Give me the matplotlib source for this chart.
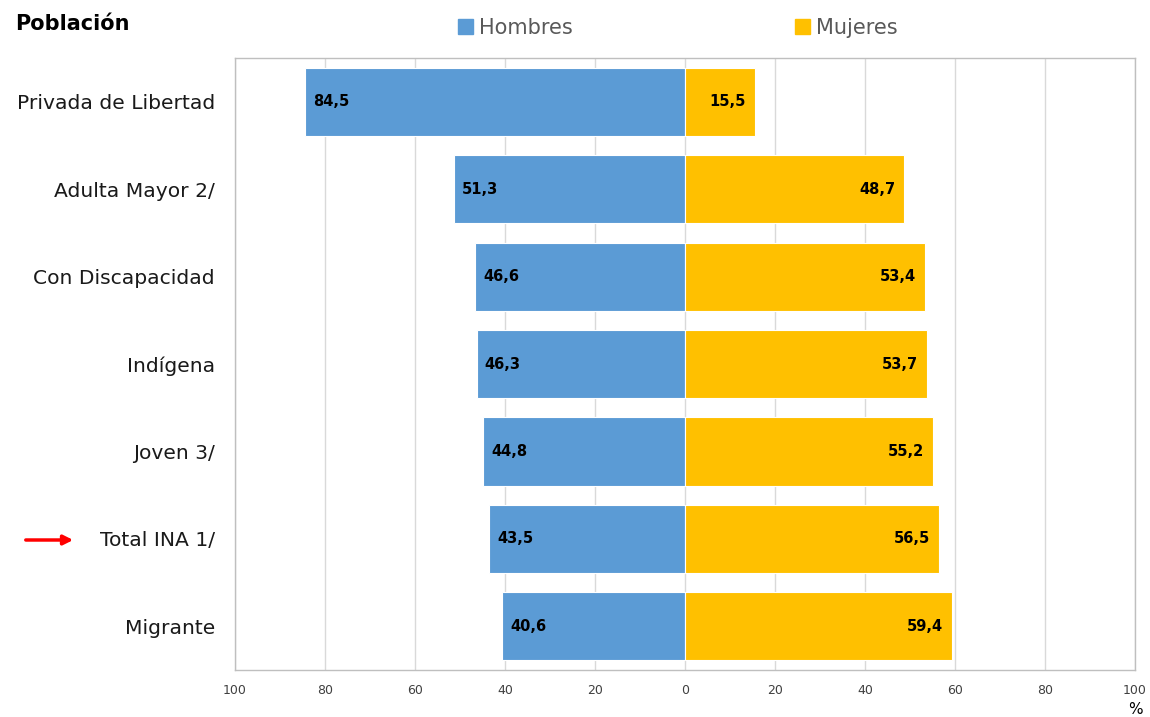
import matplotlib
matplotlib.use("Agg")
import matplotlib.pyplot as plt
from matplotlib.patches import FancyArrowPatch, Patch

categories = ["Privada de Libertad", "Adulta Mayor 2/", "Con Discapacidad", "Indígena",
              "Joven 3/", "Total INA 1/", "Migrante"]
hombres = [84.5, 51.3, 46.6, 46.3, 44.8, 43.5, 40.6]
mujeres = [15.5, 48.7, 53.4, 53.7, 55.2, 56.5, 59.4]
xticks = [-100, -80, -60, -40, -20, 0, 20, 40, 60, 80, 100]
xticklabels = ["100", "80", "60", "40", "20", "0", "20", "40", "60", "80", "100"]

blue = "#5B9BD5"
yellow = "#FFC000"

fig = plt.figure(figsize=(11.5, 7.17), dpi=100)
ax = fig.add_axes([0.2043, 0.0656, 0.7827, 0.8534])

y = list(range(len(categories)))
ax.barh(y, [-h for h in hombres], height=0.78, color=blue, edgecolor="white", linewidth=0.8, zorder=3)
ax.barh(y, mujeres, height=0.78, color=yellow, edgecolor="white", linewidth=0.8, zorder=3)

for i, (h, m) in enumerate(zip(hombres, mujeres)):
    ax.text(-h + 1.8, i, f"{h:.1f}".replace(".", ","), ha="left", va="center",
            fontsize=10.5, fontweight="bold", color="black", zorder=4)
    ax.text(m - 2, i, f"{m:.1f}".replace(".", ","), ha="right", va="center",
            fontsize=10.5, fontweight="bold", color="black", zorder=4)

ax.set_xlim(-100, 100)
ax.set_ylim(len(categories) - 0.5, -0.5)
ax.set_xticks(xticks)
ax.set_xticklabels(xticklabels, fontsize=9, color="#404040")
ax.set_yticks(y)
ax.set_yticklabels(categories, fontsize=14.6, color="#1a1a1a")
ax.tick_params(axis="both", length=0)
ax.tick_params(axis="x", pad=10)
ax.tick_params(axis="y", pad=14.5)
ax.grid(axis="x", color="#d9d9d9", linewidth=1, zorder=0)
for s in ax.spines.values():
    s.set_color("#bfbfbf")
    s.set_linewidth(1)

fig.text(15 / 1150, 1 - 24 / 717, "Población", fontsize=15, fontweight="bold", ha="left", va="center")
fig.text(1135 / 1150, 1 - 710 / 717, "%", fontsize=11, ha="center", va="center")

# legend (two entries placed at their own positions)
for color, label, xpos in [(blue, "Hombres", 458), (yellow, "Mujeres", 795)]:
    leg = fig.legend(handles=[Patch(color=color, label=label)], loc="center left",
                     bbox_to_anchor=(xpos / 1150, 1 - 28 / 717), frameon=False, fontsize=15,
                     handlelength=0.7, handleheight=0.7, handletextpad=0.3,
                     borderpad=0, borderaxespad=0)
    for t in leg.get_texts():
        t.set_color("#595959")

arrow = FancyArrowPatch((23 / 1150, 1 - 540 / 717), (76 / 1150, 1 - 540 / 717),
                        transform=fig.transFigure, arrowstyle="-|>", mutation_scale=14,
                        color="red", linewidth=2.5)
fig.patches.append(arrow)

fig.savefig("out.png", dpi=100)
